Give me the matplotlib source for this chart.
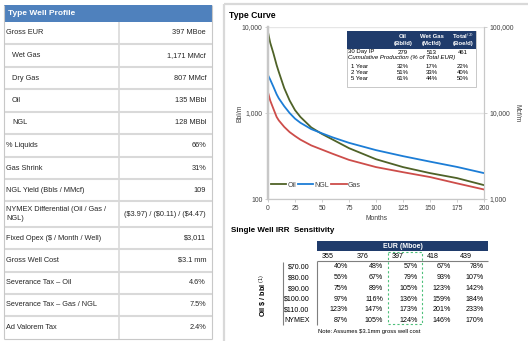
import matplotlib.pyplot as plt
from matplotlib.patches import Rectangle
from matplotlib.ticker import NullLocator

plt.rcParams['font.family'] = ['Liberation Sans', 'DejaVu Sans']

# type curve
months = [0, 2, 5, 8, 10, 15, 20, 25, 30, 40, 50, 60, 75, 100, 125, 150, 175, 200]
oil = [8700, 6600, 4950, 3600, 3000, 1950, 1400, 1080, 900, 680, 570, 490, 390, 290, 235, 200, 175, 145]
ngl = [2760, 2450, 2020, 1650, 1480, 1200, 1000, 860, 770, 650, 580, 520, 450, 370, 315, 272, 236, 200]
gas = [17400, 14000, 11200, 9000, 8200, 6900, 6000, 5400, 4900, 4200, 3750, 3350, 2850, 2350, 2050, 1800, 1520, 1290]

# type well profile table
profile_labels = ["Gross EUR", "Wet Gas", "Dry Gas", "Oil", "NGL", "% Liquids", "Gas Shrink",
                  "NGL Yield (Bbls / MMcf)", "NYMEX Differential (Oil / Gas /\nNGL)",
                  "Fixed Opex ($ / Month / Well)", "Gross Well Cost", "Severance Tax \u2013 Oil",
                  "Severance Tax \u2013 Gas / NGL", "Ad Valorem Tax"]
profile_values = ["397 MBoe", "1,171 MMcf", "807 MMcf", "135 MBbl", "128 MBbl", "66%", "31%", "109",
                  "($3.97) / ($0.11) / ($4.47)", "$3,011", "$3.1 mm", "4.6%", "7.5%", "2.4%"]
profile_indent = [False, True, True, True, True, False, False, False, False, False, False, False, False, False]

# inset table
ip_heads = ["Oil", "Wet Gas", "Total$^{(2)}$"]
ip_units = ["(Bbl/d)", "(Mcf/d)", "(Boe/d)"]
ip_30day = ["279", "513", "461"]
cum_years = ["1 Year", "2 Year", "5 Year"]
cum_pct = [["32%", "17%", "22%"], ["51%", "33%", "40%"], ["61%", "44%", "50%"]]

# IRR sensitivity
eur_cols = ["355", "376", "397", "418", "439"]
price_rows = ["$70.00", "$80.00", "$90.00", "$100.00", "$110.00", "NYMEX"]
irr = [[40, 48, 57, 67, 78],
       [56, 67, 79, 93, 107],
       [75, 89, 105, 123, 142],
       [97, 116, 136, 159, 184],
       [123, 147, 173, 201, 233],
       [87, 105, 124, 146, 170]]

W, H = 528, 341
fig = plt.figure(figsize=(W / 100, H / 100), dpi=100)


def box(x0, y0, x1, y1):
    return [x0 / W, 1 - y1 / H, (x1 - x0) / W, (y1 - y0) / H]


grey = '#404040'
ax = fig.add_axes(box(268, 27, 484, 199))
l_oil, = ax.plot(months, oil, color='#4F6228', lw=1.3, label='Oil')
l_ngl, = ax.plot(months, ngl, color='#1C7DD6', lw=1.3, label='NGL')
ax.set_yscale('log')
ax.set_ylim(100, 10000)
ax.set_xlim(0, 200)
ax.set_xticks(range(0, 201, 25))
ax.set_yticks([100, 1000, 10000], ['100', '1,000', '10,000'])
ax.yaxis.set_minor_locator(NullLocator())
ax.grid(axis='y', color='#E6E6E6', lw=1)
ax.set_axisbelow(True)

ax2 = ax.twinx()
l_gas, = ax2.plot(months, gas, color='#CD4D4A', lw=1.3, label='Gas')
ax2.set_yscale('log')
ax2.set_ylim(1000, 100000)
ax2.set_yticks([1000, 10000, 100000], ['1,000', '10,000', '100,000'])
ax2.yaxis.set_minor_locator(NullLocator())

for a in (ax, ax2):
    a.spines['top'].set_visible(False)
    for s in ('left', 'right', 'bottom'):
        a.spines[s].set_color('#C8C8C8')
    a.spines['left'].set_linewidth(1.6)
    a.tick_params(labelsize=4.9, colors='#C8C8C8', labelcolor=grey, length=2, width=0.6, pad=2)

ax2.legend([l_oil, l_ngl, l_gas], ['Oil', 'NGL', 'Gas'], loc='center left',
           bbox_to_anchor=(-0.015, 0.08), ncol=3, frameon=False, fontsize=5,
           handlelength=2.2, handletextpad=0.15, columnspacing=0.3, labelcolor=grey)

ov = fig.add_axes([0, 0, 1, 1], zorder=5)
ov.set_xlim(0, W)
ov.set_ylim(H, 0)
ov.axis('off')


def txt(x, y, s, size=5.3, ha='left', va='center', color='#262626', math=False, **kw):
    ov.text(x, y, s, fontsize=size, ha=ha, va=va, color=color, parse_math=math, **kw)


def hline(y, x0, x1, color='#D9D9D9', lw=1.2, **kw):
    ov.plot([x0, x1], [y, y], color=color, lw=lw, solid_capstyle='butt', **kw)


def vline(x, y0, y1, color='#D9D9D9', lw=1.2, **kw):
    ov.plot([x, x], [y0, y1], color=color, lw=lw, solid_capstyle='butt', **kw)


# ---- left table
ov.add_patch(Rectangle((4, 5), 208, 17, facecolor='#4F81BD', edgecolor='none'))
txt(8, 13.5, "Type Well Profile", size=6, color='white', weight='bold')
bounds = [22, 44, 67, 89, 112, 134, 157, 179, 201, 227, 249, 272, 294, 316, 339]
for yb in bounds[1:-1]:
    hline(yb, 4, 212, lw=1.5)
hline(339, 4, 212, color='#C8C8C8', lw=0.8)
vline(4, 5, 339, color='#C8C8C8', lw=0.8)
vline(212, 5, 339, color='#C8C8C8', lw=0.8)
vline(119, 22, 339, lw=1.2)
for i, (lab, val) in enumerate(zip(profile_labels, profile_values)):
    yc = (bounds[i] + bounds[i + 1]) / 2
    txt(12 if profile_indent[i] else 6, yc, lab, linespacing=1.5)
    txt(206, yc, val, ha='right')

# ---- right panel
vline(224, 4, 341, lw=1.6)
hline(4, 224, 528, lw=1.6)
txt(229, 15, "Type Curve", size=6.2, weight='bold', color='black')
txt(240, 113, "Bbl/m", size=4.9, ha='center', rotation=90, color=grey)
txt(517, 113, "Mcf/m", size=4.9, ha='center', rotation=270, color=grey)
txt(376, 218, "Months", size=4.9, ha='center', color=grey)

# inset table
fs_in = 4.3
ov.add_patch(Rectangle((347, 31), 129, 56, facecolor='white', edgecolor='#BFBFBF', lw=0.6))
ov.add_patch(Rectangle((347, 31), 129, 18, facecolor='#1F3B6B', edgecolor='none'))
ip_x = [403, 432, 463]
for x, h, u in zip(ip_x, ip_heads, ip_units):
    txt(x, 36, h, size=fs_in, ha='center', color='white', weight='bold', math=True)
    txt(x, 43.5, u, size=fs_in, ha='center', color='white', weight='bold')
txt(348, 52, "30 Day IP", size=fs_in, color='black')
for x, v in zip(ip_x, ip_30day):
    txt(x, 52, v, size=fs_in, ha='center', color='black')
txt(348, 57.5, "Cumulative Production (% of Total EUR)", size=fs_in, color='black', style='italic')
for j, yr in enumerate(cum_years):
    yc = 66 + j * 6
    txt(351, yc, yr, size=fs_in, color='black')
    for x, v in zip(ip_x, cum_pct[j]):
        txt(x, yc, v, size=fs_in, ha='center', color='black')

# ---- IRR sensitivity
txt(231, 230, "Single Well IRR  Sensitivity", size=5.8, weight='bold', color='black')
ov.add_patch(Rectangle((317, 241), 171, 10, facecolor='#1F3B6B', edgecolor='none'))
txt(402.5, 246, "EUR (Mboe)", size=5, ha='center', color='white', weight='bold')
cell_l = [317, 352, 387, 422, 455]
cell_r = [352, 387, 422, 455, 488]
for l, c in zip(cell_l, eur_cols):
    txt(l + 5, 256.5, c, size=5.1, color='black')
hline(260.7, 317, 488, color='#7F7F7F', lw=0.8)
vline(283, 261.5, 325, color='#7F7F7F', lw=0.8)
vline(317, 260.7, 325, color='#7F7F7F', lw=0.8)
row_y = [266.7, 277.7, 288.7, 299.3, 309.6, 320]
for yc, p, vals in zip(row_y, price_rows, irr):
    txt(309.5, yc, p, size=5.1, ha='right', color='black')
    for r, v in zip(cell_r, vals):
        txt(r - 4, yc, f"{v}%", size=5.1, ha='right', color='black')
ov.add_patch(Rectangle((387.5, 251.7), 34, 72.5, facecolor='none', edgecolor='#4DC07A',
                       lw=0.8, ls=(0, (2, 2))))
txt(263.5, 295, r"Oil \$ / bbl $^{(1)}$", size=5.2, ha='center', rotation=90,
    weight='bold', color='black', math=True)
txt(318, 331.5, "Note: Assumes $3.1mm gross well cost", size=4.2, color='black')

fig.savefig('out.png', dpi=100)
